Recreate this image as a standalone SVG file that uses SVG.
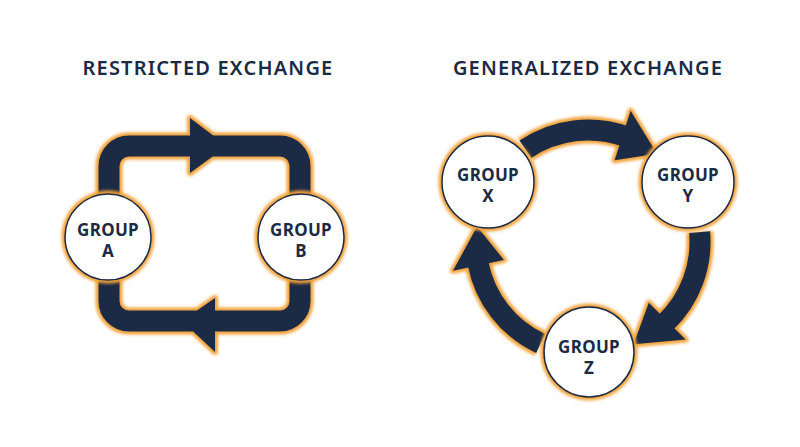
<svg xmlns="http://www.w3.org/2000/svg" width="800" height="447" viewBox="0 0 800 447">
<defs>
<style>
.t{font-family:"Noto Sans","Open Sans","Liberation Sans",sans-serif;fill:#1b2a45}
.ttl{font-size:20px;font-weight:600;letter-spacing:1.2px}
.lb{font-size:17px;font-weight:700;letter-spacing:0.3px}
.bo{fill:none;stroke:#f2a33a;stroke-width:27}
.bd{fill:none;stroke:#1b2a45;stroke-width:21}
.ho{fill:#f2a33a;stroke:#f2a33a;stroke-width:6;stroke-linejoin:round}
.hd{fill:#1b2a45}
.co{fill:#f2a33a}
.c{fill:#fff;stroke:#1b2a45;stroke-width:1.5}
</style>
<filter id="g" x="-20%" y="-20%" width="140%" height="140%"><feGaussianBlur stdDeviation="1.5"/></filter>
</defs>
<rect width="800" height="447" fill="#fff"/>
<text class="t ttl" x="208" y="75" text-anchor="middle">RESTRICTED EXCHANGE</text>
<text class="t ttl" x="588" y="75" text-anchor="middle">GENERALIZED EXCHANGE</text>
<g id="connectors">
<g filter="url(#g)">
<rect class="bo" x="109" y="146" width="191" height="175" rx="20"/>
<polygon class="ho" points="190,118 227,146 190,173"/>
<polygon class="ho" points="215,298 182,321 215,352"/>
<path class="bo" d="M525.4,149.2 A112,112 0 0 1 626.3,136.7"/>
<polygon class="ho" points="614.6,160.2 630.6,110.8 657,153.7"/>
<path class="bo" d="M699.6,232.2 A112,112 0 0 1 665.8,322.5"/>
<polygon class="ho" points="648.8,302.8 685.6,339.6 633.6,344.3"/>
<path class="bo" d="M540.6,343.5 A112,112 0 0 1 478.1,263.4"/>
<polygon class="ho" points="503.9,259.9 453,270.7 477.1,226.4"/>
</g>
<rect class="bd" x="109" y="146" width="191" height="175" rx="20"/>
<polygon class="hd" points="190,118 227,146 190,173"/>
<polygon class="hd" points="215,298 182,321 215,352"/>
<path class="bd" d="M525.4,149.2 A112,112 0 0 1 626.3,136.7"/>
<polygon class="hd" points="614.6,160.2 630.6,110.8 657,153.7"/>
<path class="bd" d="M699.6,232.2 A112,112 0 0 1 665.8,322.5"/>
<polygon class="hd" points="648.8,302.8 685.6,339.6 633.6,344.3"/>
<path class="bd" d="M540.6,343.5 A112,112 0 0 1 478.1,263.4"/>
<polygon class="hd" points="503.9,259.9 453,270.7 477.1,226.4"/>
</g>
<g filter="url(#g)">
<circle class="co" cx="108" cy="237" r="46.5"/>
<circle class="co" cx="301" cy="237" r="46.5"/>
<circle class="co" cx="488" cy="182" r="49.5"/>
<circle class="co" cx="688" cy="182" r="49.5"/>
<circle class="co" cx="589" cy="352" r="48.5"/>
</g>
<g id="groupA"><circle class="c" cx="108" cy="237" r="43"/><text class="t lb" x="108" y="236" text-anchor="middle">GROUP</text><text class="t lb" x="108" y="257" text-anchor="middle">A</text></g>
<g id="groupB"><circle class="c" cx="301" cy="237" r="43"/><text class="t lb" x="301" y="236" text-anchor="middle">GROUP</text><text class="t lb" x="301" y="257" text-anchor="middle">B</text></g>
<g id="groupX"><circle class="c" cx="488" cy="182" r="46"/><text class="t lb" x="488" y="181" text-anchor="middle">GROUP</text><text class="t lb" x="488" y="202" text-anchor="middle">X</text></g>
<g id="groupY"><circle class="c" cx="688" cy="182" r="46"/><text class="t lb" x="688" y="181" text-anchor="middle">GROUP</text><text class="t lb" x="688" y="202" text-anchor="middle">Y</text></g>
<g id="groupZ"><circle class="c" cx="589" cy="352" r="45"/><text class="t lb" x="589" y="353" text-anchor="middle">GROUP</text><text class="t lb" x="589" y="374" text-anchor="middle">Z</text></g>
</svg>
